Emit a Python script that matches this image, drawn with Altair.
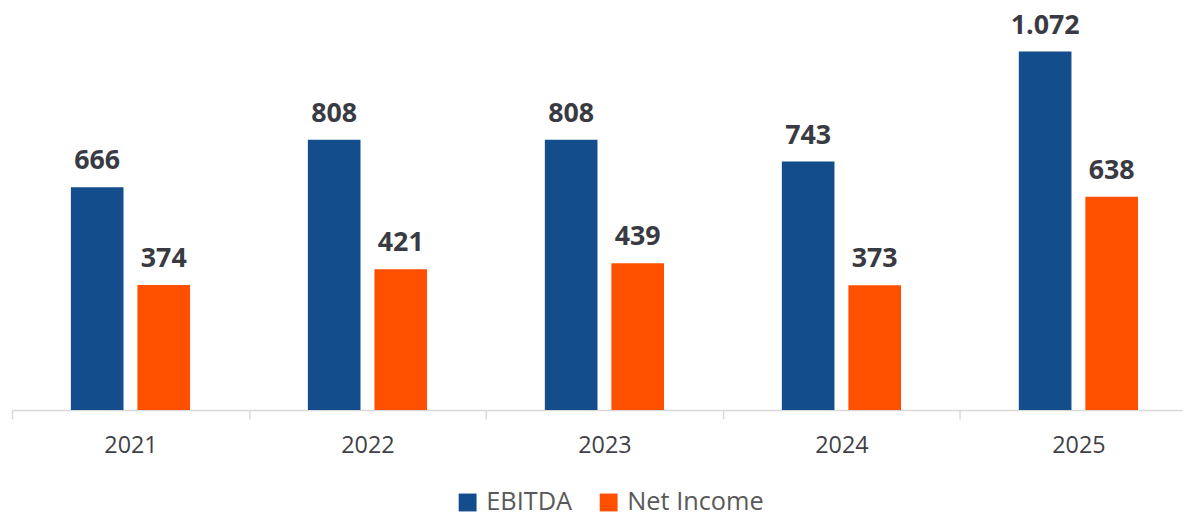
import altair as alt
import pandas as pd

years = ["2021", "2022", "2023", "2024", "2025"]
series_order = ["EBITDA", "Net Income"]
ebitda = [666, 808, 808, 743, 1072]
net_income = [374, 421, 439, 373, 638]
colors = ["#134D8B", "#FF5000"]

rows = []
for y, e, n in zip(years, ebitda, net_income):
    rows.append({"year": y, "series": "EBITDA", "value": e})
    rows.append({"year": y, "series": "Net Income", "value": n})
df = pd.DataFrame(rows)

FONT = "Open Sans"

base = alt.Chart(df).transform_calculate(
    label="replace(format(datum.value, ','), ',', '.')"
).encode(
    x=alt.X(
        "year:N",
        sort=years,
        scale=alt.Scale(paddingInner=0, paddingOuter=0),
        axis=alt.Axis(
            title=None,
            labelAngle=0,
            tickBand="extent",
            domainColor="#d9d9d9",
            domainWidth=1.5,
            tickColor="#d9d9d9",
            tickWidth=1.5,
            tickSize=9,
            labelFontSize=23.5,
            labelColor="#3f3f47",
            labelPadding=15,
            labelFont=FONT,
            grid=False,
        ),
    ),
    xOffset=alt.XOffset(
        "series:N",
        sort=series_order,
        scale=alt.Scale(paddingInner=0.209, paddingOuter=0.885),
    ),
)

bars = base.mark_bar().encode(
    y=alt.Y("value:Q", scale=alt.Scale(domain=[0, 1197]), axis=None),
    color=alt.Color(
        "series:N",
        scale=alt.Scale(domain=series_order, range=colors),
        legend=alt.Legend(
            title=None,
            orient="none",
            legendX=446,
            legendY=483,
            direction="horizontal",
            symbolType="square",
            symbolSize=324,
            symbolStrokeWidth=0,
            labelFontSize=25.5,
            labelColor="#595959",
            labelFont=FONT,
            columnPadding=24,
            labelOffset=6,
            padding=0,
        ),
    ),
)

text = base.mark_text(
    font=FONT,
    fontSize=27,
    fontWeight="bold",
    color="#3a3a42",
    baseline="alphabetic",
    dy=-18,
).encode(
    y=alt.Y("value:Q", scale=alt.Scale(domain=[0, 1197]), axis=None),
    text="label:N",
)

chart = alt.layer(bars, text).properties(
    width=1193,
    height=403,
    autosize=alt.AutoSizeParams(type="none"),
    padding={"left": 4, "top": 0, "right": -14, "bottom": 106},
).configure_view(stroke=None)

chart.save("out.html", embed_options={"renderer": "svg", "actions": False})
